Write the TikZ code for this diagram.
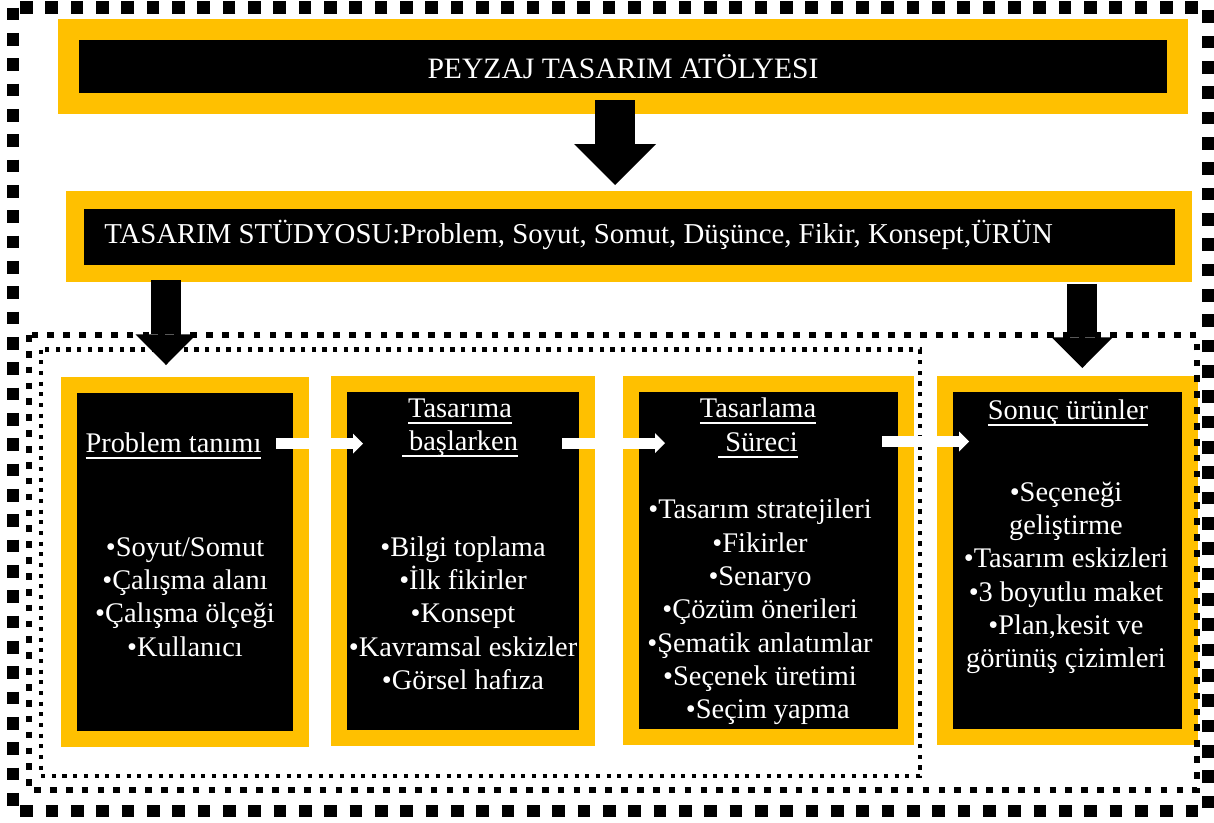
\documentclass[tikz,border=0pt]{standalone}
\usepackage{fontspec}
\setmainfont{Liberation Serif}
\usetikzlibrary{arrows.meta,calc}
\definecolor{gold}{HTML}{FFC000}
\newcommand\pxu{0.75pt}
\newcommand\ulbar[1]{\setbox0\hbox{#1}\rlap{\vrule width\wd0 height -3.3pt depth 4.8pt}\box0}
\begin{document}
\begin{tikzpicture}[x=0.75pt, y=-0.75pt,
    font=\fontsize{21.3}{25}\selectfont,
    panel/.style={draw=gold, fill=black, text=white, outer sep=0pt, inner sep=0pt},
    cardbox/.style={panel, line width=16*\pxu},
    lbl/.style={text=white, align=center, inner sep=0pt},
    bigdots/.style={line width=9.5pt, dash pattern=on 9.5pt off 9.5pt},
    middots/.style={line width=5pt, dash pattern=on 5pt off 6.9pt},
    smalldots/.style={line width=3.2pt, dash pattern=on 3.2pt off 4.8pt},
    mainarrow/.style={line width=30pt, -{Triangle[width=61.5pt, length=30.75pt, line width=0pt]}},
    downarrow/.style={line width=22.5pt, -{Triangle[width=45.75pt, length=23pt, line width=0pt]}},
    flowarrow/.style={color=white, line width=8.25pt, -{Triangle[width=15pt, length=7.5pt, line width=0pt]}}]
    \useasboundingbox (0,0) rectangle (1214,822);

    % Top boxes
    \node[panel, line width=21*\pxu, minimum width=1109*\pxu, minimum height=74*\pxu, font=\fontsize{22.2}{26}\selectfont] (atolye) at (623,66.5) {PEYZAJ TASARIM ATÖLYESI};
    \node[panel, line width=17.5*\pxu, minimum width=1108.5*\pxu, minimum height=73.5*\pxu] (studyo) at (629,236.5) {};
    \node[lbl, anchor=west, font=\fontsize{21.6}{25}\selectfont] (studyolbl) at (104,235) {TASARIM STÜDYOSU:Problem, Soyut, Somut, Düşünce, Fikir, Konsept,ÜRÜN};

    % Stage boxes
    \node[cardbox, minimum width=232*\pxu, minimum height=353.5*\pxu] (problem) at (185,561.75) {};
    \node[cardbox, minimum width=248*\pxu, minimum height=354*\pxu] (baslarken) at (463,561) {};
    \node[cardbox, minimum width=274.75*\pxu, minimum height=353*\pxu] (surec) at (768.125,560.5) {};
    \node[cardbox, minimum width=244.5*\pxu, minimum height=353.5*\pxu] (sonuc) at (1067.25,560.25) {};

    % Stage texts
    \node[lbl] (problemttl) at (173.5,445.5) {\ulbar{Problem tanımı}};
    \node[lbl] (problemtxt) at (185,597) {•Soyut/Somut\\•Çalışma alanı\\•Çalışma ölçeği\\•Kullanıcı};
    \node[lbl] (baslarkenttl) at (460,428) {\ulbar{Tasarıma}\\\ulbar{\ başlarken}};
    \node[lbl] (baslarkentxt) at (463,613) {•Bilgi toplama\\•İlk fikirler\\•Konsept\\•Kavramsal eskizler\\•Görsel hafıza};
    \node[lbl] (surecttl) at (758,428) {\ulbar{Tasarlama}\\\ulbar{\ Süreci}};
    \node[lbl] (surectxt) at (760,612) {•Tasarım stratejileri\\•Fikirler\\•Senaryo\\•Çözüm önerileri\\•Şematik anlatımlar\\•Seçenek üretimi\\\hspace*{0.55em}•Seçim yapma};
    \node[lbl] (sonucttl) at (1068,412.5) {\ulbar{Sonuç ürünler}};
    \node[lbl] (sonuctxt) at (1066,578) {•Seçeneği\\geliştirme\\•Tasarım eskizleri\\•3 boyutlu maket\\•Plan,kesit ve\\görünüş çizimleri};

    % Dotted frames
    \draw[bigdots] (13,7.5) rectangle (1208,811);
    \draw[middots] (29,335) rectangle (1197,790);
    \draw[smalldots] (41,349.5) rectangle (920,776);

    % Block arrows
    \draw[mainarrow] ($(atolye.south)+(-8,-3.5)$) -- ($(studyo.north)+(-14,-14.75)$);
    \draw[downarrow] ($(studyo.south -| problem.north)+(-19,7)$) -- ($(problem.north)+(-19,-20)$);
    \draw[downarrow] ($(studyo.south -| sonuc.north)+(15,10.5)$) -- ($(sonuc.north)+(15,-15.5)$);

    % Flow arrows
    \draw[flowarrow] ($(problem.north east)+(-25,58.5)$) -- ($(baslarken.north west)+(24,59.5)$);
    \draw[flowarrow] ($(baslarken.north east)+(-25,59)$) -- ($(surec.north west)+(34.25,59)$);
    \draw[flowarrow] ($(surec.north east)+(-23.5,57.5)$) -- ($(sonuc.north west)+(24,58)$);
\end{tikzpicture}
\end{document}
